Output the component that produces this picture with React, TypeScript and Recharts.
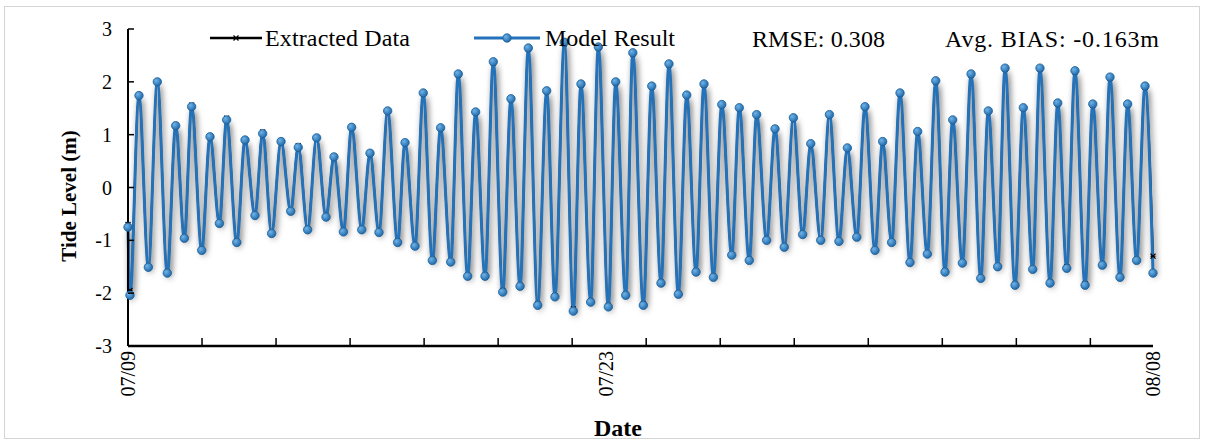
import { LineChart, Line, XAxis, YAxis } from 'recharts';

// hours since 07/09 00:00, read at each high / low water
const hours = [
  0, 1.4, 7.7, 14.3, 20.6, 27.6, 33.5, 39.6, 44.7, 51.8,
  57.6, 64.2, 69.3, 76.4, 82.2, 89.2, 94.6, 100.9, 107.5, 114.3,
  119.6, 126.2, 132.5, 139.1, 144.7, 151.3, 157.1, 164.2, 170, 176.3,
  182.4, 189.4, 194.6, 201.6, 207.4, 213.8, 219.6, 226.7, 232, 238.6,
  244.2, 250.8, 256.6, 263.2, 269, 275.4, 281.2, 287.8, 294.1, 299.9,
  306.5, 312.8, 318.2, 325, 330.4, 337.4, 342.6, 349.6, 354.6, 362,
  367.9, 374.4, 380, 386.6, 392.5, 399, 404.6, 411.2, 417.1, 424.1,
  429.4, 436.4, 441.6, 448.6, 454.5, 461, 467.4, 473.9, 479.6, 486.6,
  492.7, 499.4, 505.3, 511.9, 517.7, 524.7, 530.1, 536.4, 542.3, 549.3,
  554.7, 561.5, 567.4, 573.9, 579.3, 586.1, 592.2, 599, 604.3, 610.9,
  616.1, 623.1, 628.9, 635.5, 640.6, 647.7, 653.1, 659.4, 665.2, 672.3,
  677.7, 684.4, 689.8, 696.8, 702.2, 708.5, 714.4, 720,
];

const modelResult = [
  -0.75, -2.04, 1.74, -1.51, 2.0, -1.62, 1.17, -0.96, 1.53, -1.19,
  0.96, -0.68, 1.28, -1.04, 0.9, -0.53, 1.02, -0.87, 0.87, -0.45,
  0.76, -0.8, 0.94, -0.56, 0.58, -0.84, 1.14, -0.8, 0.65, -0.85,
  1.45, -1.04, 0.85, -1.11, 1.79, -1.38, 1.13, -1.41, 2.15, -1.68,
  1.43, -1.68, 2.38, -1.98, 1.68, -1.87, 2.64, -2.23, 1.83, -2.07,
  2.75, -2.34, 1.96, -2.17, 2.66, -2.26, 2.0, -2.04, 2.55, -2.23,
  1.92, -1.81, 2.34, -2.02, 1.75, -1.6, 1.96, -1.7, 1.57, -1.28,
  1.51, -1.38, 1.38, -1.0, 1.11, -1.13, 1.32, -0.89, 0.83, -1.0,
  1.38, -1.02, 0.75, -0.94, 1.53, -1.19, 0.87, -1.04, 1.79, -1.42,
  1.06, -1.26, 2.02, -1.6, 1.28, -1.43, 2.15, -1.72, 1.45, -1.5,
  2.26, -1.85, 1.51, -1.55, 2.26, -1.81, 1.6, -1.53, 2.21, -1.85,
  1.58, -1.47, 2.09, -1.7, 1.58, -1.38, 1.92, -1.62,
];

const extractedData = [
  -0.7, -1.95, 1.74, -1.5, 2.0, -1.6, 1.18, -0.95, 1.56, -1.17,
  0.97, -0.67, 1.31, -1.02, 0.9, -0.52, 1.05, -0.86, 0.88, -0.44,
  0.79, -0.78, 0.94, -0.55, 0.59, -0.82, 1.14, -0.79, 0.65, -0.84,
  1.44, -1.02, 0.85, -1.1, 1.78, -1.36, 1.12, -1.4, 2.13, -1.66,
  1.42, -1.66, 2.36, -1.95, 1.67, -1.85, 2.62, -2.2, 1.82, -2.05,
  2.72, -2.3, 1.94, -2.15, 2.64, -2.23, 1.98, -2.02, 2.53, -2.2,
  1.9, -1.79, 2.32, -2.0, 1.74, -1.58, 1.94, -1.68, 1.56, -1.27,
  1.5, -1.36, 1.37, -0.99, 1.1, -1.12, 1.31, -0.88, 0.82, -0.99,
  1.37, -1.0, 0.75, -0.93, 1.52, -1.18, 0.86, -1.03, 1.77, -1.4,
  1.05, -1.25, 2.0, -1.58, 1.27, -1.42, 2.13, -1.7, 1.44, -1.48,
  2.24, -1.83, 1.5, -1.53, 2.24, -1.79, 1.58, -1.5, 2.19, -1.82,
  1.56, -1.45, 2.07, -1.68, 1.56, -1.36, 1.9, -1.3,
];

const levelTicks = [-3, -2, -1, 0, 1, 2, 3];
const markTicks = [0, 52, 104, 156, 208, 260, 312, 364, 416, 468, 520, 572, 624, 676];
const dateTicks = [0, 336, 720];
const dateLabels = ['07/09', '07/23', '08/08'];

const chartData = hours.map((h, i) => ({
  h,
  model: modelResult[i],
  extracted: extractedData[i],
}));

const allDateTicks = Array.from(new Set([...markTicks, ...dateTicks])).sort((a, b) => a - b);

const FONT = '"Liberation Serif", "Times New Roman", serif';
const BLUE = '#2472b9';
const X_MARGIN = 4;
const Y_MARGIN = 16;

const DateTick = (props: any) => {
  const { x, y, payload } = props;
  const axisY = y - X_MARGIN;
  const idx = dateTicks.indexOf(payload.value);
  return (
    <g>
      {markTicks.includes(payload.value) && payload.value !== 0 && (
        <line x1={x} x2={x} y1={axisY} y2={axisY - 8} stroke="#000" strokeWidth={1.5} />
      )}
      {idx >= 0 && (
        <text
          transform={`translate(${x},${axisY + 5}) rotate(-90)`}
          textAnchor="end"
          dy="0.35em"
          fontFamily={FONT}
          fontSize={20}
          fill="#000"
        >
          {dateLabels[idx]}
        </text>
      )}
    </g>
  );
};

const LevelTick = (props: any) => {
  const { x, y, payload } = props;
  const axisX = x + Y_MARGIN;
  return (
    <g>
      <line x1={axisX} x2={axisX + 6} y1={y} y2={y} stroke="#000" strokeWidth={1.5} />
      <text x={x} y={y} dy="0.35em" textAnchor="end" fontFamily={FONT} fontSize={20} fill="#000">
        {payload.value}
      </text>
    </g>
  );
};

const StarDot = (props: any) => {
  const { cx, cy, index } = props;
  if (cx == null || cy == null) return <g key={index} />;
  const s = 2.5;
  return (
    <g key={index} stroke="#000" strokeWidth={1.2}>
      <line x1={cx - s} y1={cy - s} x2={cx + s} y2={cy + s} />
      <line x1={cx - s} y1={cy + s} x2={cx + s} y2={cy - s} />
      <line x1={cx - s} y1={cy} x2={cx + s} y2={cy} />
    </g>
  );
};

export default function App() {
  return (
    <div style={{ position: 'absolute', left: 0, top: 0, width: 1208, height: 445, background: '#fff', fontFamily: FONT }}>
      <style>{`.model-series { filter: drop-shadow(2px 4px 3px rgba(0,0,0,0.6)); }`}</style>
      <div
        style={{
          position: 'absolute',
          left: 4,
          top: 6,
          width: 1196,
          height: 433,
          border: '1px solid #d4d4d4',
          boxSizing: 'border-box',
        }}
      />
      <div style={{ position: 'absolute', left: 0, top: 0 }}>
        <LineChart width={1208} height={445} data={chartData} margin={{ top: 29, right: 55, bottom: 39, left: 68 }}>
          <defs>
            <radialGradient id="bead" cx="35%" cy="35%" r="70%">
              <stop offset="0%" stopColor="#6fb3e8" />
              <stop offset="100%" stopColor="#1c66a8" />
            </radialGradient>
          </defs>
          <XAxis
            dataKey="h"
            type="number"
            domain={[0, 720]}
            ticks={allDateTicks}
            interval={0}
            height={60}
            tickSize={0}
            tickMargin={X_MARGIN}
            tickLine={false}
            axisLine={{ stroke: '#000', strokeWidth: 2.5 }}
            tick={<DateTick />}
          />
          <YAxis
            type="number"
            domain={[-3, 3]}
            ticks={levelTicks}
            interval={0}
            width={60}
            tickSize={0}
            tickMargin={Y_MARGIN}
            tickLine={false}
            axisLine={{ stroke: '#000', strokeWidth: 2 }}
            tick={<LevelTick />}
          />
          <Line
            dataKey="extracted"
            name="Extracted Data"
            type="monotone"
            stroke="#000"
            strokeWidth={2}
            dot={<StarDot />}
            activeDot={false}
            isAnimationActive={false}
          />
          <Line
            dataKey="model"
            name="Model Result"
            type="monotone"
            className="model-series"
            stroke={BLUE}
            strokeWidth={3}
            dot={{ r: 4.2, fill: 'url(#bead)', stroke: '#1b5e97', strokeWidth: 0.8 }}
            activeDot={false}
            isAnimationActive={false}
          />
        </LineChart>
      </div>
      <svg width={1208} height={445} style={{ position: 'absolute', left: 0, top: 0, pointerEvents: 'none' }}>
        <line x1={210} x2={262} y1={38} y2={38} stroke="#000" strokeWidth={2.5} />
        <StarDot cx={236} cy={38} index={0} />
        <text x={265} y={46} fontFamily={FONT} fontSize={24} textLength={145} fill="#000">Extracted Data</text>
        <line x1={474} x2={540} y1={38} y2={38} stroke={BLUE} strokeWidth={3} />
        <circle cx={507} cy={38} r={4.2} fill="url(#bead)" stroke="#1b5e97" strokeWidth={0.8} />
        <text x={545} y={46} fontFamily={FONT} fontSize={24} textLength={130} fill="#000">Model Result</text>
        <text x={752} y={47} fontFamily={FONT} fontSize={24} textLength={133} fill="#000">RMSE: 0.308</text>
        <text x={945} y={47} fontFamily={FONT} fontSize={24} textLength={214} fill="#000">Avg. BIAS: -0.163m</text>
        <text
          transform="translate(76,196) rotate(-90)"
          textAnchor="middle"
          fontFamily={FONT}
          fontSize={21}
          fontWeight="bold"
          fill="#000"
        >
          Tide Level (m)
        </text>
        <text x={618} y={436} textAnchor="middle" fontFamily={FONT} fontSize={24} fontWeight="bold" fill="#000">
          Date
        </text>
      </svg>
    </div>
  );
}
